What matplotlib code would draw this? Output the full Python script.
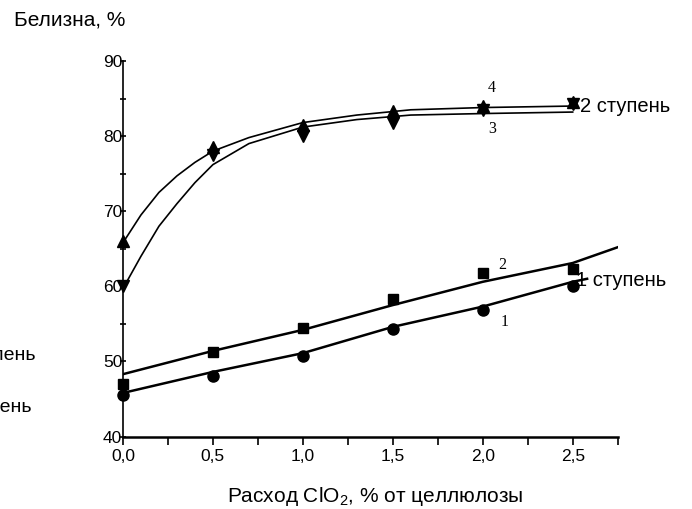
import matplotlib
matplotlib.use("Agg")
import matplotlib.pyplot as plt
from matplotlib.ticker import MultipleLocator, FixedLocator

plt.rcParams['font.family'] = ['Liberation Sans', 'DejaVu Sans']
plt.rcParams['mathtext.fontset'] = 'custom'
plt.rcParams['mathtext.rm'] = 'Liberation Sans'

# measured points
x_pts = [0.0, 0.5, 1.0, 1.5, 2.0, 2.5]
s1_pts = [45.5, 48.0, 50.7, 54.3, 56.8, 60.0]   # circles
s2_pts = [47.0, 51.2, 54.4, 58.3, 61.8, 62.3]   # squares
s3_pts = [60.0, 77.5, 80.0, 81.8, 83.5, 84.3]   # down triangles
s4_pts = [66.0, 78.5, 81.5, 83.3, 84.0, 84.6]   # up triangles

# fitted curves
c1_x = [0.0, 0.5, 1.0, 1.5, 2.0, 2.5, 2.58]
c1_y = [45.8, 48.6, 51.1, 54.6, 57.3, 60.6, 61.0]
c2_x = [0.0, 0.5, 1.0, 1.5, 2.0, 2.5, 2.75]
c2_y = [48.3, 51.4, 54.2, 57.5, 60.6, 63.1, 65.2]
c34_x = [0.0, 0.1, 0.2, 0.3, 0.4, 0.5, 0.7, 1.0, 1.3, 1.6, 2.0, 2.5]
c3_y = [59.7, 64.0, 68.0, 71.0, 73.8, 76.2, 79.0, 81.2, 82.2, 82.8, 83.0, 83.2]
c4_y = [65.8, 69.5, 72.5, 74.7, 76.5, 78.0, 79.8, 81.8, 82.8, 83.5, 83.8, 84.0]

curve_labels = ['1', '2', '3', '4']
label_pos = [(2.12, 55.3), (2.11, 62.9), (2.05, 81.0), (2.05, 86.4)]
stage_labels = ['1 ступень', '2 ступень']

fig = plt.figure(figsize=(6.92, 5.09), dpi=100)
ax = fig.add_axes([0.1777, 0.1424, 0.8926 - 0.1777, 0.8802 - 0.1424])

k = 'black'
ax.plot(c1_x, c1_y, color=k, lw=1.8)
ax.plot(c2_x, c2_y, color=k, lw=1.8)
ax.plot(c34_x, c3_y, color=k, lw=1.2)
ax.plot(c34_x, c4_y, color=k, lw=1.2)

ax.plot(x_pts, s1_pts, 'o', color=k, ms=8, clip_on=False)
ax.plot(x_pts, s2_pts, 's', color=k, ms=7.5, clip_on=False)
ax.plot(x_pts, s3_pts, 'v', color=k, ms=8, clip_on=False)
ax.plot(x_pts, s4_pts, '^', color=k, ms=8, clip_on=False)

for lab, (lx, ly) in zip(curve_labels, label_pos):
    ax.text(lx, ly, lab, family='Liberation Serif', fontsize=11.5, ha='center', va='center')

ax.text(2.54, 84.0, stage_labels[1], fontsize=14.5, ha='left', va='center')
ax.text(2.52, 60.8, stage_labels[0], fontsize=14.5, ha='left', va='center')

ax.set_xlim(0, 2.75)
ax.set_ylim(40, 90)
for s in ['top', 'right']:
    ax.spines[s].set_visible(False)
ax.spines['left'].set_linewidth(1.2)
ax.spines['bottom'].set_linewidth(1.8)

ax.xaxis.set_major_locator(FixedLocator([0, 0.5, 1.0, 1.5, 2.0, 2.5]))
ax.xaxis.set_minor_locator(FixedLocator([0.25, 0.75, 1.25, 1.75, 2.25, 2.75]))
ax.set_xticklabels(['0,0', '0,5', '1,0', '1,5', '2,0', '2,5'])
ax.yaxis.set_major_locator(MultipleLocator(10))
ax.yaxis.set_minor_locator(MultipleLocator(5))
ax.tick_params(axis='x', which='both', direction='out', length=6, width=1.2, labelsize=12.5, pad=3)
ax.tick_params(axis='y', which='both', direction='inout', length=5, width=1.2, labelsize=12.5, pad=-2)

fig.text(14 / 692, 1 - 20 / 509, 'Белизна, %', fontsize=15, ha='left', va='center')
fig.text(375 / 692, 1 - 496 / 509, 'Расход ClO$_2$, % от целлюлозы', fontsize=15, ha='center', va='center')
# legend fragments that the reference shows cut off at the left edge
fig.text(36 / 692, 1 - 355 / 509, stage_labels[0], fontsize=14, ha='right', va='center')
fig.text(31 / 692, 1 - 408 / 509, stage_labels[1], fontsize=14, ha='right', va='center')

fig.savefig('out.png', dpi=100)
